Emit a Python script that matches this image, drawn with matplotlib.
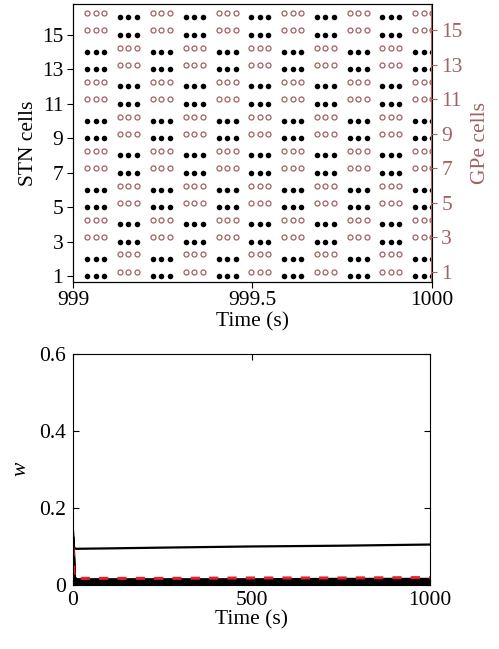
import numpy as np
import matplotlib
matplotlib.use("Agg")
import matplotlib.pyplot as plt

plt.rcParams['font.family'] = ['Liberation Serif', 'DejaVu Serif']
plt.rcParams['font.size'] = 15.5
plt.rcParams['mathtext.fontset'] = 'custom'
plt.rcParams['mathtext.it'] = 'Liberation Serif:italic'

gpe_color = '#a06262'

# Raster: burst onsets (s) of the two antiphase groups, spike offsets within a burst
onsets_a = [999.040, 999.223, 999.406, 999.589, 999.772, 999.955]
onsets_b = [999.131, 999.314, 999.497, 999.680, 999.863]
spike_offsets = [0.0, 0.0237, 0.0474]

stn_group_a = [1, 2, 5, 6, 9, 10, 13, 14]
stn_group_b = [3, 4, 7, 8, 11, 12, 15, 16]
gpe_group_a = [3, 4, 7, 8, 11, 12, 15, 16]
gpe_group_b = [1, 2, 5, 6, 9, 10, 13, 14]

# Synaptic weights w over the full run
w_time = [0, 3, 8, 15, 100, 250, 500, 750, 1000]
w_high = [0.14, 0.096, 0.093, 0.093, 0.094, 0.096, 0.099, 0.101, 0.104]
w_mean = [0.097, 0.022, 0.016, 0.016, 0.016, 0.016, 0.017, 0.017, 0.018]
w_low = [
    [0.12, 0.02, 0.013, 0.012, 0.012, 0.012, 0.012, 0.013, 0.013],
    [0.11, 0.015, 0.010, 0.010, 0.010, 0.010, 0.010, 0.010, 0.011],
    [0.10, 0.012, 0.008, 0.007, 0.007, 0.007, 0.007, 0.007, 0.008],
    [0.09, 0.010, 0.005, 0.005, 0.005, 0.005, 0.005, 0.005, 0.005],
    [0.08, 0.008, 0.003, 0.003, 0.003, 0.003, 0.003, 0.003, 0.003],
    [0.07, 0.005, 0.001, 0.001, 0.001, 0.001, 0.001, 0.001, 0.001],
]

W, H = 499, 649
fig = plt.figure(figsize=(W / 100, H / 100), dpi=100)

def px_axes(left, top, right, bottom):
    return fig.add_axes([left / W, 1 - bottom / H, (right - left) / W, (bottom - top) / H])

# ---- top panel: spike raster
ax = px_axes(73, 4, 431.5, 281.7)
ax2 = ax.twinx()

def spikes(onsets, cells):
    t = np.array([o + d for o in onsets for d in spike_offsets])
    tt, cc = np.meshgrid(t, cells)
    return tt.ravel(), cc.ravel()

for onsets, cells in [(onsets_a, stn_group_a), (onsets_b, stn_group_b)]:
    x, y = spikes(onsets, cells)
    ax.plot(x, y, 'o', color='black', ms=4.0, mew=0)

for onsets, cells in [(onsets_a, gpe_group_a), (onsets_b, gpe_group_b)]:
    x, y = spikes(onsets, cells)
    ax2.plot(x, y, 'o', mfc='none', mec=gpe_color, ms=3.6, mew=0.9)

ax.set_xlim(999, 1000)
ax.set_ylim(0.67, 16.78)
ax2.set_ylim(0.42, 16.53)
ax.set_xticks([999, 999.5, 1000])
ax.set_xticklabels(['999', '999.5', '1000'])
ax.set_yticks(range(1, 16, 2))
ax2.set_yticks(range(1, 16, 2))
ax.tick_params(direction='out', length=4, width=0.8, pad=3)
ax2.tick_params(direction='out', length=4, width=0.8, colors=gpe_color, pad=3)
ax.set_xlabel('Time (s)', labelpad=1)
ax.set_ylabel('STN cells', labelpad=3)
ax2.set_ylabel('GPe cells', color=gpe_color, labelpad=6)
ax2.spines['right'].set_color(gpe_color)
for s in ax.spines.values():
    s.set_linewidth(0.8)
for s in ax2.spines.values():
    s.set_linewidth(0.8)

# ---- bottom panel: weights
bx = px_axes(73, 354, 430, 584.5)
for row in w_low:
    bx.plot(w_time, row, color='black', lw=2.5)
bx.plot(w_time, w_high, color='black', lw=1.6)
bx.plot(w_time, w_mean, color='#e8202a', lw=2.2, ls=(0, (3, 3)))
bx.set_xlim(0, 1000)
bx.set_ylim(0, 0.6)
bx.set_xticks([0, 500, 1000])
bx.set_yticks([0, 0.2, 0.4, 0.6])
bx.set_yticklabels(['0', '0.2', '0.4', '0.6'])
bx.tick_params(direction='in', length=4, width=0.8, top=True, right=True, pad=5)
bx.set_xlabel('Time (s)', labelpad=0)
bx.set_ylabel('$w$', labelpad=6)
for s in bx.spines.values():
    s.set_linewidth(0.8)

fig.savefig('out.png', dpi=100)
